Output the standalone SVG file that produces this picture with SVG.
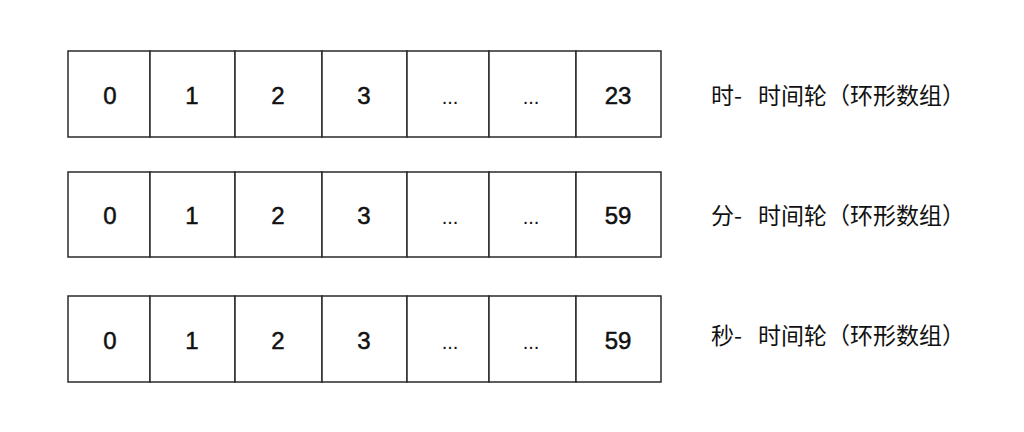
<svg xmlns="http://www.w3.org/2000/svg" width="1024" height="432" viewBox="0 0 1024 432">
<style>
.cell{fill:#ffffff;stroke:#2a2a2a;stroke-width:1.5}
.num{font-family:"Comic Sans MS","Liberation Sans",Arial,sans-serif;font-size:24px;fill:#111;stroke:#111;stroke-width:0.5;text-anchor:middle}
.dots{font-family:"Comic Sans MS","Liberation Sans",Arial,sans-serif;font-size:20px;fill:#111;text-anchor:middle}
.lbl{font-family:"Noto Sans CJK SC","Noto Sans",sans-serif;font-size:23px;fill:#111}
</style>
<rect width="1024" height="432" fill="#ffffff"/>
<g id="row-hour">
<rect class="cell" x="68" y="51" width="82" height="86"/>
<rect class="cell" x="150" y="51" width="85" height="86"/>
<rect class="cell" x="235" y="51" width="87" height="86"/>
<rect class="cell" x="322" y="51" width="85" height="86"/>
<rect class="cell" x="407" y="51" width="82" height="86"/>
<rect class="cell" x="489" y="51" width="87" height="86"/>
<rect class="cell" x="576" y="51" width="85" height="86"/>
<text class="num" x="110" y="104">0</text>
<text class="num" x="192" y="104">1</text>
<text class="num" x="278" y="104">2</text>
<text class="num" x="364" y="104">3</text>
<text class="dots" x="450" y="104">...</text>
<text class="dots" x="531" y="104">...</text>
<text class="num" x="618" y="104">23</text>
<text class="lbl" y="103.5"><tspan x="711">时-</tspan><tspan x="758">时间轮（环形数组）</tspan></text>
</g>
<g id="row-minute">
<rect class="cell" x="68" y="172" width="82" height="85"/>
<rect class="cell" x="150" y="172" width="85" height="85"/>
<rect class="cell" x="235" y="172" width="87" height="85"/>
<rect class="cell" x="322" y="172" width="85" height="85"/>
<rect class="cell" x="407" y="172" width="82" height="85"/>
<rect class="cell" x="489" y="172" width="87" height="85"/>
<rect class="cell" x="576" y="172" width="85" height="85"/>
<text class="num" x="110" y="224">0</text>
<text class="num" x="192" y="224">1</text>
<text class="num" x="278" y="224">2</text>
<text class="num" x="364" y="224">3</text>
<text class="dots" x="450" y="224">...</text>
<text class="dots" x="531" y="224">...</text>
<text class="num" x="618" y="224">59</text>
<text class="lbl" y="223.5"><tspan x="711">分-</tspan><tspan x="758">时间轮（环形数组）</tspan></text>
</g>
<g id="row-second">
<rect class="cell" x="68" y="296" width="82" height="86"/>
<rect class="cell" x="150" y="296" width="85" height="86"/>
<rect class="cell" x="235" y="296" width="87" height="86"/>
<rect class="cell" x="322" y="296" width="85" height="86"/>
<rect class="cell" x="407" y="296" width="82" height="86"/>
<rect class="cell" x="489" y="296" width="87" height="86"/>
<rect class="cell" x="576" y="296" width="85" height="86"/>
<text class="num" x="110" y="348.5">0</text>
<text class="num" x="192" y="348.5">1</text>
<text class="num" x="278" y="348.5">2</text>
<text class="num" x="364" y="348.5">3</text>
<text class="dots" x="450" y="348.5">...</text>
<text class="dots" x="531" y="348.5">...</text>
<text class="num" x="618" y="348.5">59</text>
<text class="lbl" y="343.5"><tspan x="711">秒-</tspan><tspan x="758">时间轮（环形数组）</tspan></text>
</g>
<g id="connectors"/>
</svg>
